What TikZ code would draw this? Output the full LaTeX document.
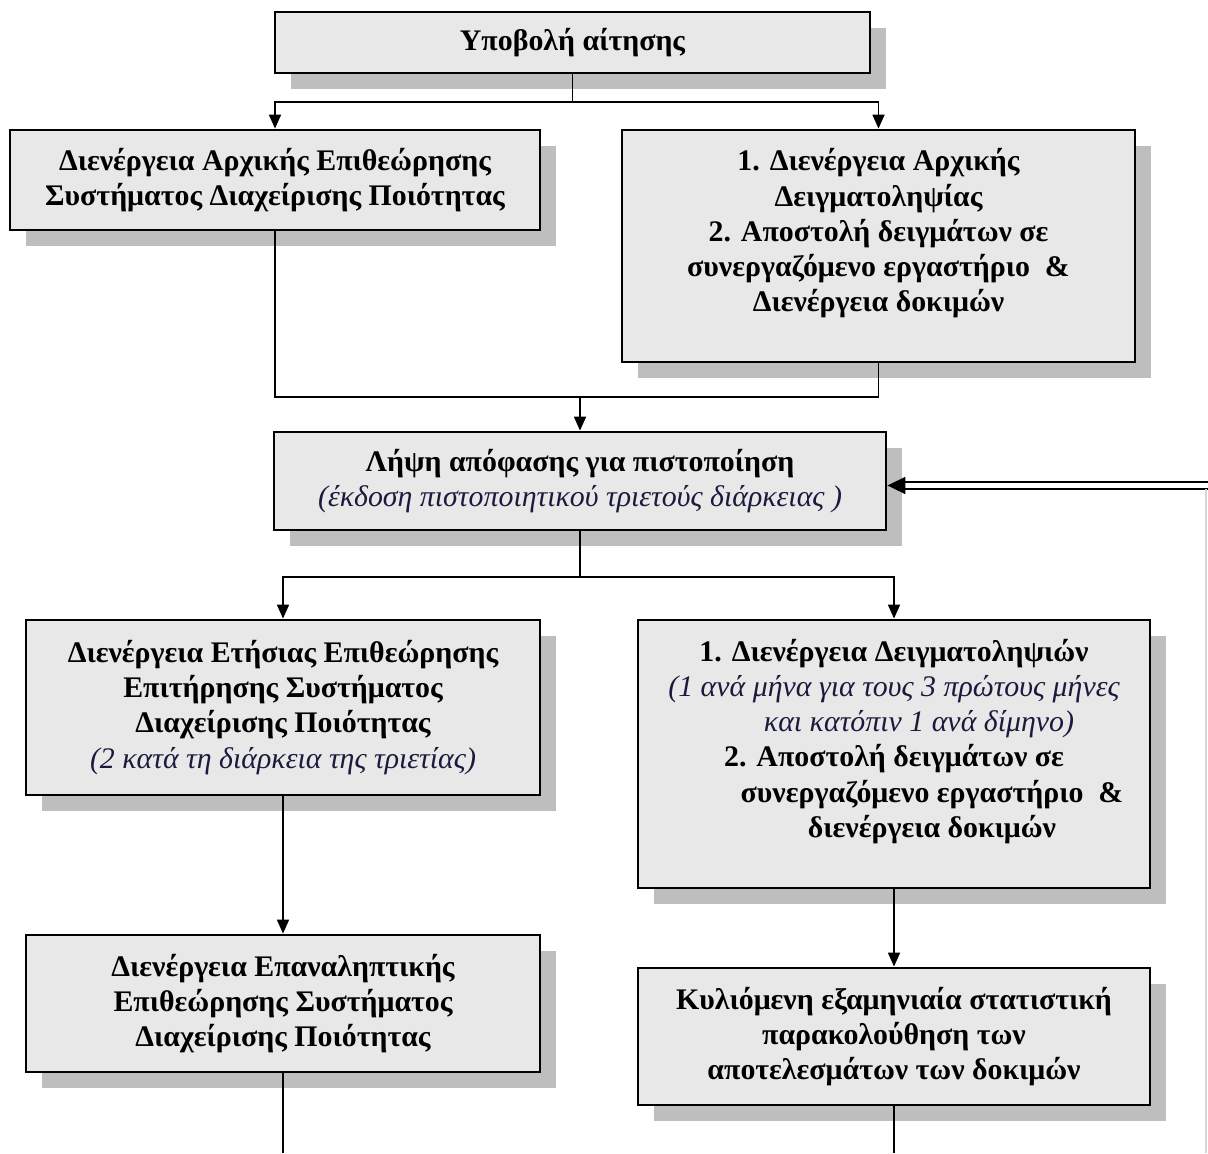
\documentclass[tikz,border=0pt]{standalone}
\usepackage{fontspec}
\setmainfont{Liberation Serif}
\usetikzlibrary{arrows.meta,calc,positioning,shadows}
\definecolor{ink}{HTML}{000000}
\definecolor{boxfill}{HTML}{E8E8E8}
\definecolor{shade}{HTML}{BEBEBE}
\definecolor{note}{HTML}{1A1A3C}
\definecolor{edgegray}{HTML}{D6D6D6}

\begin{document}
\begin{tikzpicture}[
  stage/.style={rectangle,draw=ink,fill=boxfill,line width=1.6pt,inner sep=0pt,align=center,
    font=\fontsize{17}{20}\selectfont\bfseries,
    drop shadow={shadow xshift=.32cm,shadow yshift=-.32cm,fill=shade,opacity=1}},
  link/.style={draw=ink,line width=1pt},
  arr/.style={link,-{Triangle[length=.28cm,width=.24cm]}},
  back/.style={draw=ink,line width=1pt,double,double distance=.1cm,-{Triangle[length=.36cm,width=.34cm]}}]
  \useasboundingbox (0,0) rectangle (24.16,-23.06);
  \node[stage,minimum width=11.9cm,minimum height=1.22cm] (submit) at (11.45,-.85) {Υποβολή  αίτησης};
  \node[stage,minimum width=10.6cm,minimum height=2cm] (audit) at (5.5,-3.6)
    {Διενέργεια Αρχικής Επιθεώρησης\\ Συστήματος Διαχείρισης Ποιότητας};
  \node[stage,minimum width=10.26cm,minimum height=4.64cm] (sampling) at (17.57,-4.92)
    {1. Διενέργεια Αρχικής\\ Δειγματοληψίας\\ 2. Αποστολή δειγμάτων σε\\ συνεργαζόμενο εργαστήριο \ \&\\ Διενέργεια δοκιμών\\[-2pt]\mbox{}};
  \node[stage,minimum width=12.24cm,minimum height=1.96cm] (decision) at (11.6,-9.62)
    {Λήψη απόφασης για πιστοποίηση\\ {\mdseries\itshape\color{note}(έκδοση πιστοποιητικού τριετούς διάρκειας )}};
  \node[stage,minimum width=10.28cm,minimum height=3.5cm] (annual) at (5.66,-14.15)
    {Διενέργεια Ετήσιας Επιθεώρησης\\ Επιτήρησης Συστήματος\\ Διαχείρισης Ποιότητας\\
     {\mdseries\itshape\color{note}(2 κατά τη διάρκεια της τριετίας)}};
  \node[stage,minimum width=10.24cm,minimum height=5.36cm] (periodic) at (17.88,-15.08)
    {1. Διενέργεια Δειγματοληψιών\\
     {\mdseries\itshape\color{note}(1 ανά μήνα για τους 3 πρώτους μήνες}\\
     \kern.5cm{\mdseries\itshape\color{note}και κατόπιν 1 ανά δίμηνο)}\kern-.5cm\\
     2. Αποστολή δειγμάτων σε\\
     \kern.76cm συνεργαζόμενο εργαστήριο \ \&\kern-.76cm\\
     \kern.76cm διενέργεια δοκιμών\kern-.76cm\\[-2pt]\mbox{}};
  \node[stage,minimum width=10.28cm,minimum height=2.74cm] (repeat) at (5.66,-20.07)
    {Διενέργεια Επαναληπτικής\\ Επιθεώρησης Συστήματος\\ Διαχείρισης Ποιότητας};
  \node[stage,minimum width=10.24cm,minimum height=2.74cm] (rolling) at (17.88,-20.73)
    {Κυλιόμενη εξαμηνιαία στατιστική\\ παρακολούθηση των\\ αποτελεσμάτων των δοκιμών};
  \coordinate (split1) at (submit.south |- 0,-2.04);
  \coordinate (merge) at (decision.north |- 0,-7.94);
  \coordinate (split2) at (decision.south |- 0,-11.54);
  \coordinate (ret) at (24.2,-9.71);
  \coordinate (retdown) at (24.12,-9.78);
  \coordinate (edge) at (24.12,-23.06);
  \coordinate (repeatend) at (repeat.south |- 0,-23.06);
  \coordinate (rollingend) at (rolling.south |- 0,-23.06);
  \draw[link] (submit.south) -- (split1);
  \draw[arr] (split1) -| (audit.north);
  \draw[arr] (split1) -| (sampling.north);
  \draw[link] (audit.south) |- (merge) -| (sampling.south);
  \draw[arr] (merge) -- (decision.north);
  \draw[link] (decision.south) -- (split2);
  \draw[arr] (split2) -| (annual.north);
  \draw[arr] (split2) -| (periodic.north);
  \draw[arr] (annual.south) -- (repeat.north);
  \draw[arr] (periodic.south) -- (rolling.north);
  \draw[link] (repeat.south) -- (repeatend);
  \draw[link] (rolling.south) -- (rollingend);
  \draw[back] (ret) -- (decision.east |- ret);
  \draw[edgegray,line width=.8pt] (retdown) -- (edge);
\end{tikzpicture}
\end{document}
